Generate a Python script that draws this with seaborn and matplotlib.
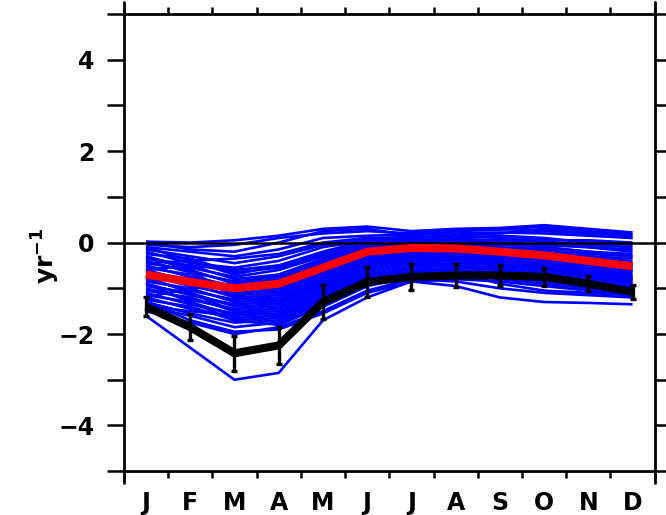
import numpy as np
import pandas as pd
import matplotlib
matplotlib.use("Agg")
import matplotlib.pyplot as plt
import seaborn as sns

months = ["J", "F", "M", "A", "M", "J", "J", "A", "S", "O", "N", "D"]
month_num = list(range(1, 13))

members = [
    [0.02, 0.00, 0.05, 0.15, 0.30, 0.35, 0.25, 0.30, 0.32, 0.38, 0.30, 0.22],
    [-0.05, -0.10, -0.05, 0.10, 0.20, 0.25, 0.20, 0.28, 0.30, 0.25, 0.20, 0.15],
    [-0.10, -0.20, -0.30, -0.15, 0.10, 0.15, 0.18, 0.20, 0.22, 0.20, 0.15, 0.10],
    [-0.15, -0.30, -0.45, -0.30, -0.05, 0.10, 0.12, 0.15, 0.10, 0.05, 0.05, 0.00],
    [-0.20, -0.45, -0.55, -0.40, -0.10, 0.05, 0.05, 0.08, 0.05, 0.02, -0.05, -0.10],
    [-0.25, -0.35, -0.65, -0.55, -0.25, 0.00, 0.02, 0.05, 0.00, -0.05, -0.10, -0.15],
    [-0.30, -0.55, -0.75, -0.60, -0.30, -0.05, 0.00, 0.00, -0.05, -0.10, -0.20, -0.25],
    [-0.35, -0.50, -0.80, -0.70, -0.40, -0.10, -0.05, -0.02, -0.10, -0.15, -0.25, -0.30],
    [-0.40, -0.65, -0.85, -0.75, -0.45, -0.15, -0.08, -0.05, -0.12, -0.20, -0.30, -0.35],
    [-0.45, -0.60, -0.90, -0.80, -0.50, -0.20, -0.10, -0.10, -0.15, -0.25, -0.35, -0.40],
    [-0.50, -0.75, -0.95, -0.85, -0.55, -0.22, -0.12, -0.12, -0.20, -0.30, -0.40, -0.45],
    [-0.55, -0.70, -1.00, -0.95, -0.60, -0.25, -0.15, -0.15, -0.22, -0.32, -0.42, -0.50],
    [-0.60, -0.85, -1.05, -1.00, -0.65, -0.28, -0.18, -0.18, -0.25, -0.35, -0.45, -0.55],
    [-0.65, -0.80, -1.10, -1.05, -0.70, -0.30, -0.20, -0.20, -0.28, -0.38, -0.50, -0.60],
    [-0.70, -0.95, -1.15, -1.10, -0.75, -0.35, -0.22, -0.22, -0.30, -0.40, -0.52, -0.62],
    [-0.75, -0.90, -1.20, -1.15, -0.80, -0.38, -0.25, -0.25, -0.32, -0.42, -0.55, -0.65],
    [-0.80, -1.05, -1.25, -1.20, -0.85, -0.40, -0.28, -0.28, -0.35, -0.45, -0.58, -0.70],
    [-0.85, -1.00, -1.30, -1.25, -0.90, -0.45, -0.30, -0.30, -0.38, -0.48, -0.60, -0.72],
    [-0.90, -1.15, -1.35, -1.30, -0.95, -0.50, -0.32, -0.32, -0.40, -0.50, -0.62, -0.75],
    [-0.95, -1.10, -1.40, -1.35, -1.00, -0.55, -0.35, -0.35, -0.42, -0.52, -0.65, -0.78],
    [-1.00, -1.25, -1.45, -1.40, -1.05, -0.60, -0.40, -0.38, -0.45, -0.55, -0.68, -0.80],
    [-1.05, -1.20, -1.50, -1.45, -1.10, -0.65, -0.45, -0.40, -0.48, -0.58, -0.70, -0.82],
    [-1.10, -1.35, -1.55, -1.50, -1.15, -0.70, -0.50, -0.45, -0.50, -0.60, -0.72, -0.85],
    [-1.15, -1.30, -1.60, -1.55, -1.20, -0.75, -0.55, -0.50, -0.55, -0.65, -0.75, -0.88],
    [-1.20, -1.45, -1.65, -1.60, -1.25, -0.80, -0.60, -0.55, -0.60, -0.70, -0.80, -0.90],
    [-1.25, -1.40, -1.70, -1.65, -1.30, -0.85, -0.65, -0.60, -0.65, -0.75, -0.85, -0.95],
    [-1.30, -1.55, -1.75, -1.70, -1.35, -0.90, -0.70, -0.65, -0.70, -0.80, -0.90, -1.00],
    [-1.40, -1.60, -1.85, -1.75, -1.40, -0.95, -0.75, -0.70, -0.80, -0.90, -1.00, -1.10],
    [-1.50, -1.75, -2.00, -1.85, -1.50, -1.05, -0.80, -0.85, -1.00, -1.10, -1.15, -1.20],
    [-1.60, -2.30, -3.00, -2.85, -1.70, -1.20, -0.85, -0.95, -1.20, -1.30, -1.32, -1.35],
    [-0.10, -0.40, -0.70, -0.50, -0.20, 0.05, 0.10, 0.15, 0.20, 0.30, 0.20, 0.10],
    [-1.20, -1.00, -0.90, -0.70, -0.35, -0.10, 0.00, 0.05, 0.00, -0.10, -0.20, -0.30],
    [-0.30, -0.60, -1.20, -1.30, -0.90, -0.50, -0.45, -0.50, -0.60, -0.70, -0.85, -1.00],
    [-0.60, -0.50, -0.60, -0.50, -0.30, -0.15, -0.10, -0.05, -0.05, -0.05, -0.10, -0.20],
    [-1.40, -1.50, -1.60, -1.30, -0.80, -0.40, -0.30, -0.25, -0.30, -0.35, -0.40, -0.50],
    [-0.90, -1.30, -1.70, -1.80, -1.40, -0.95, -0.70, -0.65, -0.90, -1.05, -1.10, -1.15],
    [0.00, -0.15, -0.20, 0.00, 0.25, 0.30, 0.15, 0.25, 0.28, 0.35, 0.25, 0.18],
    [-0.45, -0.40, -0.35, -0.25, 0.00, 0.10, 0.05, 0.10, 0.15, 0.10, 0.00, -0.05],
    [-1.30, -1.70, -1.95, -1.90, -1.55, -1.10, -0.85, -0.80, -0.85, -0.95, -1.05, -1.15],
    [-0.75, -1.10, -1.50, -1.60, -1.20, -0.80, -0.60, -0.60, -0.75, -0.85, -0.95, -1.05],
]

model_mean = [-0.70, -0.86, -1.00, -0.90, -0.55, -0.20, -0.12, -0.13, -0.20, -0.28, -0.40, -0.52]
obs = [-1.40, -1.85, -2.42, -2.25, -1.30, -0.86, -0.75, -0.72, -0.72, -0.75, -0.90, -1.08]
obs_err = [0.20, 0.28, 0.38, 0.40, 0.37, 0.33, 0.29, 0.26, 0.24, 0.20, 0.17, 0.15]

rows = []
for i, m in enumerate(members):
    for x, v in zip(month_num, m):
        rows.append({"member": i, "month": x, "value": v})
df = pd.DataFrame(rows)
df_mean = pd.DataFrame({"month": month_num, "value": model_mean})
df_obs = pd.DataFrame({"month": month_num, "value": obs, "err": obs_err})

sns.set_style("white")
plt.rcParams["font.family"] = ["DejaVu Sans"]
plt.rcParams["mathtext.fontset"] = "dejavusans"
plt.rcParams["text.color"] = "black"
plt.rcParams["xtick.color"] = "black"
plt.rcParams["ytick.color"] = "black"
plt.rcParams["axes.labelcolor"] = "black"

fig = plt.figure(figsize=(6.66, 5.15), dpi=100)
ax = fig.add_axes([0.186, 0.085, 0.797, 0.888])

sns.lineplot(data=df, x="month", y="value", units="member", estimator=None,
             color="#0000ff", lw=1.9, ax=ax, legend=False, zorder=2,
             solid_capstyle="butt")
ax.axhline(0, color="black", lw=1.8, zorder=3)
sns.lineplot(data=df_mean, x="month", y="value", color="#ff0000", lw=5.8,
             ax=ax, legend=False, zorder=4, solid_capstyle="butt")
sns.lineplot(data=df_obs, x="month", y="value", color="black", lw=5.8,
             ax=ax, legend=False, zorder=5, solid_capstyle="butt")
ax.errorbar(df_obs["month"], df_obs["value"], yerr=df_obs["err"], fmt="none",
            ecolor="black", elinewidth=2.4, capsize=2.5, capthick=2.4, zorder=6)

ax.set_xlim(0.5, 12.5)
ax.set_ylim(-5, 5)
ax.set_xticks(month_num)
ax.set_xticklabels(months)
ax.set_xticks(np.arange(0.5, 13.0, 1.0), minor=True)
ax.set_yticks([-4, -2, 0, 2, 4])
ax.set_yticklabels(["\u22124", "\u22122", "0", "2", "4"])
ax.set_yticks(np.arange(-5, 6, 1), minor=True)

ax.tick_params(axis="x", which="major", length=0, pad=14, labelsize=17)
ax.tick_params(axis="x", which="minor", length=5, width=1.8, direction="out",
               top=True, bottom=True)
ax.tick_params(axis="y", which="major", length=12, width=1.8, direction="out",
               left=True, right=True, labelsize=17, pad=9)
ax.tick_params(axis="y", which="minor", length=12, width=1.8, direction="out",
               left=True, right=True)
for lab in ax.get_xticklabels() + ax.get_yticklabels():
    lab.set_fontweight("bold")

for s in ax.spines.values():
    s.set_linewidth(2)
    s.set_color("black")

# longer end ticks at the corners
for xx in (0.0, 1.0):
    ax.plot([xx, xx], [1.0, 1.0 + 12 / 457], transform=ax.transAxes,
            color="black", lw=2, clip_on=False)
    ax.plot([xx, xx], [0.0, -12 / 457], transform=ax.transAxes,
            color="black", lw=2, clip_on=False)

ax.set_xlabel("")
ax.set_ylabel(r"yr$^{\mathbf{-1}}$", fontsize=18, fontweight="bold")
ax.yaxis.set_label_coords(-0.117, 0.47)

fig.savefig("out.png", dpi=100)
